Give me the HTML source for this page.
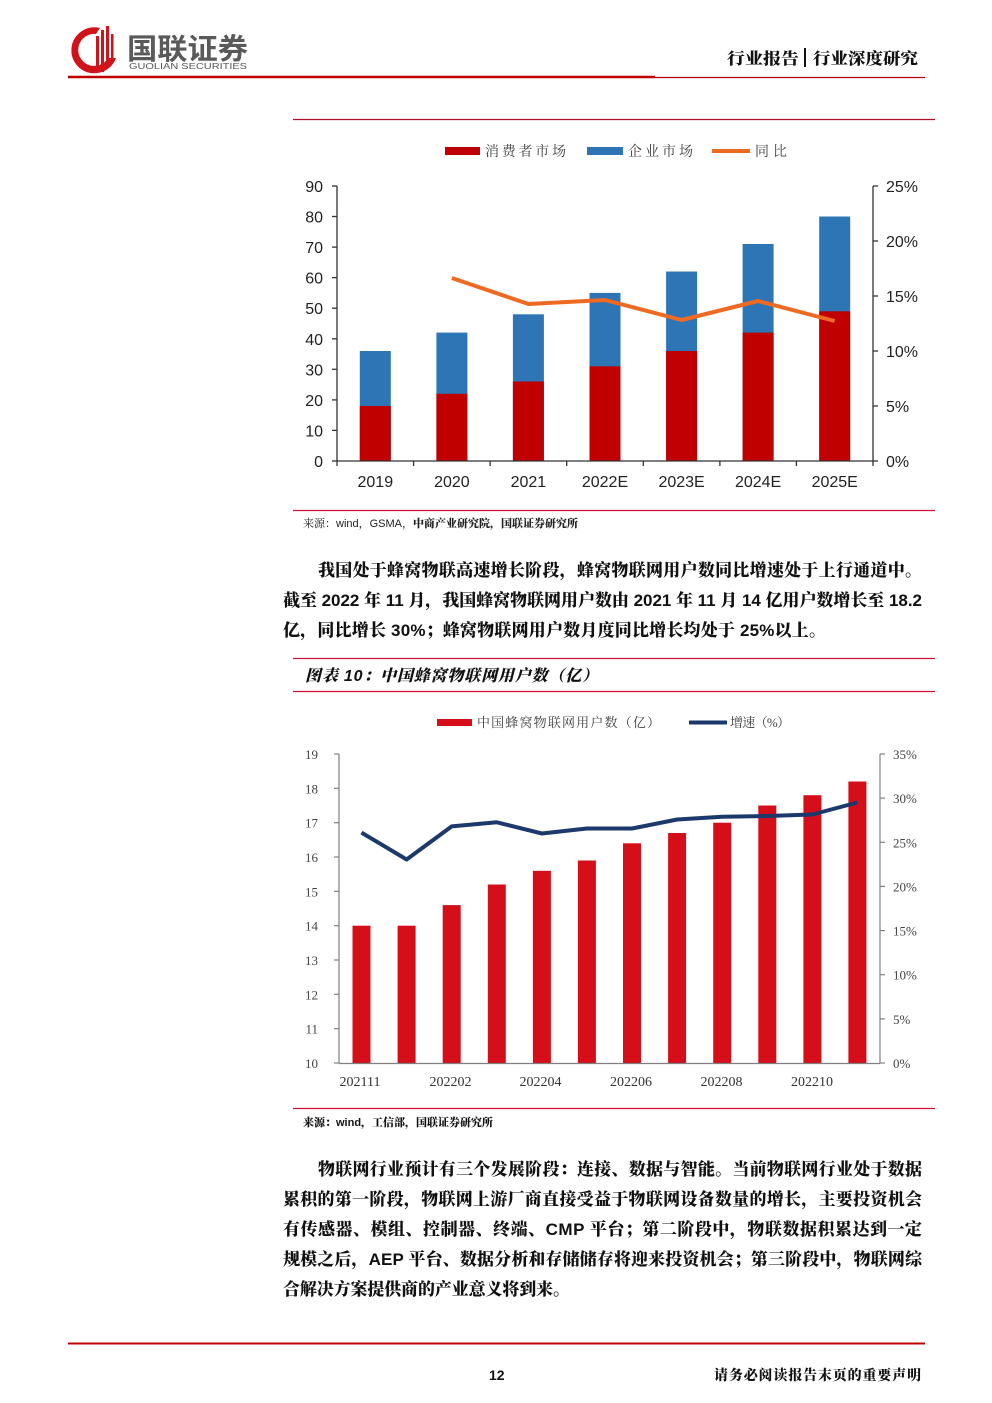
<!DOCTYPE html>
<html><head><meta charset="utf-8"><style>
html,body{margin:0;padding:0;background:#fff;}
svg{display:block;}
</style></head><body>
<svg width="992" height="1403" viewBox="0 0 992 1403" xmlns="http://www.w3.org/2000/svg">
<rect width="992" height="1403" fill="#fff"/>
<!-- Header logo -->
<g>
 <path d="M100 28 A23 23 0 1 0 116 58 L108 58 A16 16 0 1 1 96 34 Z" fill="#D0121B"/>
 <rect x="96" y="36" width="3" height="36" fill="#D0121B"/>
 <rect x="101" y="30" width="3" height="42" fill="#D0121B"/>
 <rect x="106" y="26" width="3" height="40" fill="#D0121B"/>
 <rect x="111" y="34" width="2.5" height="26" fill="#D0121B"/>
 <text x="127" y="59" font-family="'Liberation Sans','Noto Sans CJK SC',sans-serif" font-size="29" font-weight="700" fill="#5a5a5a" textLength="121" lengthAdjust="spacingAndGlyphs">国联证券</text>
 <text x="129" y="69" font-family="'Liberation Sans',sans-serif" font-size="8.5" fill="#555" textLength="118" lengthAdjust="spacingAndGlyphs">GUOLIAN SECURITIES</text>
</g>
<text x="727" y="64" font-family="'Liberation Sans','Noto Serif CJK SC',serif" font-size="16" font-weight="900" fill="#111" textLength="72" lengthAdjust="spacingAndGlyphs">行业报告</text>
<rect x="804" y="48" width="2" height="19" fill="#111"/>
<text x="813" y="64" font-family="'Liberation Sans','Noto Serif CJK SC',serif" font-size="16" font-weight="900" fill="#111" textLength="105" lengthAdjust="spacingAndGlyphs">行业深度研究</text>
<line x1="68" y1="77" x2="655" y2="77" stroke="#C00000" stroke-width="2.5"/>
<line x1="655" y1="77.5" x2="925" y2="77.5" stroke="#C00000" stroke-width="1.2"/>

<!-- Chart 1 -->
<line x1="293" y1="119.5" x2="935" y2="119.5" stroke="#B0102A" stroke-width="1.2"/>
<g font-family="'Liberation Serif','Noto Serif CJK SC',serif" font-size="14" fill="#404040">
 <rect x="445" y="147" width="35" height="8" fill="#C00000"/>
 <text x="485" y="156" textLength="81" lengthAdjust="spacing">消费者市场</text>
 <rect x="587" y="147" width="36" height="8" fill="#2E75B6"/>
 <text x="628" y="156" textLength="65" lengthAdjust="spacing">企业市场</text>
 <line x1="712" y1="151" x2="750" y2="151" stroke="#EE6A22" stroke-width="4"/>
 <text x="755" y="156" textLength="32" lengthAdjust="spacing">同比</text>
</g>
<g>
 <!-- bars -->
 <g fill="#2E75B6">
  <rect x="359.8" y="351" width="31" height="110"/>
  <rect x="436.4" y="332.6" width="31" height="128.4"/>
  <rect x="512.9" y="314.3" width="31" height="146.7"/>
  <rect x="589.5" y="292.9" width="31" height="168.1"/>
  <rect x="666.1" y="271.5" width="31" height="189.5"/>
  <rect x="742.6" y="244" width="31" height="217"/>
  <rect x="819.2" y="216.5" width="31" height="244.5"/>
 </g>
 <g fill="#C00000">
  <rect x="359.8" y="406" width="31" height="55"/>
  <rect x="436.4" y="393.8" width="31" height="67.2"/>
  <rect x="512.9" y="381.5" width="31" height="79.5"/>
  <rect x="589.5" y="366.3" width="31" height="94.7"/>
  <rect x="666.1" y="351" width="31" height="110"/>
  <rect x="742.6" y="332.6" width="31" height="128.4"/>
  <rect x="819.2" y="311.3" width="31" height="149.7"/>
 </g>
 <polyline points="451.9,278 528.4,304 605,300 681.6,320 758.1,301 834.7,321" fill="none" stroke="#EE6A22" stroke-width="4" stroke-linejoin="round"/>
 <!-- axes -->
 <g stroke="#333" stroke-width="1.3">
  <line x1="337" y1="186" x2="337" y2="461"/>
  <line x1="873" y1="186" x2="873" y2="461"/>
  <line x1="337" y1="461" x2="873" y2="461"/>
  <line x1="332" y1="461" x2="337" y2="461"/><line x1="332" y1="430.4" x2="337" y2="430.4"/><line x1="332" y1="399.9" x2="337" y2="399.9"/><line x1="332" y1="369.3" x2="337" y2="369.3"/><line x1="332" y1="338.8" x2="337" y2="338.8"/><line x1="332" y1="308.2" x2="337" y2="308.2"/><line x1="332" y1="277.6" x2="337" y2="277.6"/><line x1="332" y1="247.1" x2="337" y2="247.1"/><line x1="332" y1="216.5" x2="337" y2="216.5"/><line x1="332" y1="186" x2="337" y2="186"/>
  <line x1="873" y1="461" x2="878" y2="461"/><line x1="873" y1="406" x2="878" y2="406"/><line x1="873" y1="351" x2="878" y2="351"/><line x1="873" y1="296" x2="878" y2="296"/><line x1="873" y1="241" x2="878" y2="241"/><line x1="873" y1="186" x2="878" y2="186"/>
  <line x1="337" y1="461" x2="337" y2="466"/><line x1="413.6" y1="461" x2="413.6" y2="466"/><line x1="490.1" y1="461" x2="490.1" y2="466"/><line x1="566.7" y1="461" x2="566.7" y2="466"/><line x1="643.3" y1="461" x2="643.3" y2="466"/><line x1="719.9" y1="461" x2="719.9" y2="466"/><line x1="796.4" y1="461" x2="796.4" y2="466"/><line x1="873" y1="461" x2="873" y2="466"/>
 </g>
 <g font-family="'Liberation Sans',sans-serif" font-size="16" fill="#222" text-anchor="end">
  <text x="323" y="467">0</text><text x="323" y="436.4">10</text><text x="323" y="405.9">20</text><text x="323" y="375.3">30</text><text x="323" y="344.8">40</text><text x="323" y="314.2">50</text><text x="323" y="283.6">60</text><text x="323" y="253.1">70</text><text x="323" y="222.5">80</text><text x="323" y="192">90</text>
 </g>
 <g font-family="'Liberation Sans',sans-serif" font-size="16" fill="#222">
  <text x="886" y="467">0%</text><text x="886" y="412">5%</text><text x="886" y="357">10%</text><text x="886" y="302">15%</text><text x="886" y="247">20%</text><text x="886" y="192">25%</text>
 </g>
 <g font-family="'Liberation Sans',sans-serif" font-size="16" fill="#222" text-anchor="middle">
  <text x="375.3" y="487">2019</text><text x="451.9" y="487">2020</text><text x="528.4" y="487">2021</text><text x="605" y="487">2022E</text><text x="681.6" y="487">2023E</text><text x="758.1" y="487">2024E</text><text x="834.7" y="487">2025E</text>
 </g>
</g>
<line x1="293" y1="510.5" x2="935" y2="510.5" stroke="#D0103A" stroke-width="1.2"/>
<text x="303" y="527" font-family="'Liberation Sans','Noto Serif CJK SC',serif" font-size="11" fill="#222">来源：wind，GSMA，<tspan font-weight="900">中商产业研究院，国联证券研究所</tspan></text>

<!-- Paragraph 1 -->
<g font-family="'Liberation Sans','Noto Serif CJK SC',serif" font-size="17" font-weight="900" fill="#111">
 <text x="318" y="576" textLength="604" lengthAdjust="spacing">我国处于蜂窝物联高速增长阶段，蜂窝物联网用户数同比增速处于上行通道中。</text>
 <text x="283" y="606" textLength="639" lengthAdjust="spacing">截至 2022 年 11 月，我国蜂窝物联网用户数由 2021 年 11 月 14 亿用户数增长至 18.2</text>
 <text x="283" y="636" textLength="543" lengthAdjust="spacing">亿，同比增长 30%；蜂窝物联网用户数月度同比增长均处于 25%以上。</text>
</g>

<!-- Title 2 -->
<line x1="293" y1="658.5" x2="935" y2="658.5" stroke="#D0103A" stroke-width="1.2"/>
<text x="305" y="681" font-family="'Liberation Sans','Noto Serif CJK SC',serif" font-size="16" font-weight="900" font-style="italic" fill="#111" textLength="293" lengthAdjust="spacing">图表 10：中国蜂窝物联网用户数（亿）</text>
<line x1="293" y1="691.5" x2="935" y2="691.5" stroke="#D0103A" stroke-width="1.2"/>

<!-- Chart 2 -->
<g font-family="'Liberation Serif','Noto Serif CJK SC',serif" font-size="13" fill="#404040">
 <rect x="437" y="719" width="35" height="7" fill="#D50F1A"/>
 <text x="477" y="727" textLength="183" lengthAdjust="spacing">中国蜂窝物联网用户数（亿）</text>
 <line x1="689" y1="722.5" x2="727" y2="722.5" stroke="#1B3A6B" stroke-width="4"/>
 <text x="730" y="727" textLength="60" lengthAdjust="spacing">增速（%）</text>
</g>
<g>
 <g fill="#D50F1A">
  <rect x="352.5" y="925.7" width="18" height="137.3"/>
  <rect x="397.6" y="925.7" width="18" height="137.3"/>
  <rect x="442.7" y="905.1" width="18" height="157.9"/>
  <rect x="487.8" y="884.5" width="18" height="178.5"/>
  <rect x="532.9" y="870.8" width="18" height="192.2"/>
  <rect x="577.9" y="860.5" width="18" height="202.5"/>
  <rect x="623" y="843.3" width="18" height="219.7"/>
  <rect x="668.1" y="833" width="18" height="230"/>
  <rect x="713.2" y="822.7" width="18" height="240.3"/>
  <rect x="758.3" y="805.5" width="18" height="257.5"/>
  <rect x="803.4" y="795.2" width="18" height="267.8"/>
  <rect x="848.4" y="781.5" width="18" height="281.5"/>
 </g>
 <polyline points="361.5,832.6 406.6,859.5 451.7,826.4 496.8,822.3 541.9,833.5 586.9,828.5 632,828.5 677.1,819.5 722.2,816.7 767.3,816 812.4,814.5 857.4,802.5" fill="none" stroke="#1B3A6B" stroke-width="4" stroke-linejoin="round"/>
 <g stroke="#808080" stroke-width="1.2">
  <line x1="339" y1="754" x2="339" y2="1063.5"/>
  <line x1="880" y1="754" x2="880" y2="1063.5"/>
  <line x1="339" y1="1063.5" x2="880" y2="1063.5"/>
  <line x1="334" y1="1063" x2="339" y2="1063"/><line x1="334" y1="1028.7" x2="339" y2="1028.7"/><line x1="334" y1="994.3" x2="339" y2="994.3"/><line x1="334" y1="960" x2="339" y2="960"/><line x1="334" y1="925.7" x2="339" y2="925.7"/><line x1="334" y1="891.3" x2="339" y2="891.3"/><line x1="334" y1="857" x2="339" y2="857"/><line x1="334" y1="822.7" x2="339" y2="822.7"/><line x1="334" y1="788.3" x2="339" y2="788.3"/><line x1="334" y1="754" x2="339" y2="754"/>
  <line x1="880" y1="1063" x2="885" y2="1063"/><line x1="880" y1="1018.9" x2="885" y2="1018.9"/><line x1="880" y1="974.7" x2="885" y2="974.7"/><line x1="880" y1="930.6" x2="885" y2="930.6"/><line x1="880" y1="886.4" x2="885" y2="886.4"/><line x1="880" y1="842.3" x2="885" y2="842.3"/><line x1="880" y1="798.1" x2="885" y2="798.1"/><line x1="880" y1="754" x2="885" y2="754"/>
 </g>
 <g font-family="'Liberation Serif',serif" font-size="13" fill="#444" text-anchor="end">
  <text x="318" y="1068">10</text><text x="318" y="1033.7">11</text><text x="318" y="999.3">12</text><text x="318" y="965">13</text><text x="318" y="930.7">14</text><text x="318" y="896.3">15</text><text x="318" y="862">16</text><text x="318" y="827.7">17</text><text x="318" y="793.3">18</text><text x="318" y="759">19</text>
 </g>
 <g font-family="'Liberation Serif',serif" font-size="13" fill="#444">
  <text x="893" y="1068">0%</text><text x="893" y="1023.9">5%</text><text x="893" y="979.7">10%</text><text x="893" y="935.6">15%</text><text x="893" y="891.4">20%</text><text x="893" y="847.3">25%</text><text x="893" y="803.1">30%</text><text x="893" y="759">35%</text>
 </g>
 <g font-family="'Liberation Serif',serif" font-size="14" fill="#333" text-anchor="middle">
  <text x="360" y="1086">202111</text><text x="450.5" y="1086">202202</text><text x="540.5" y="1086">202204</text><text x="631" y="1086">202206</text><text x="721.5" y="1086">202208</text><text x="812" y="1086">202210</text>
 </g>
</g>
<line x1="293" y1="1108.5" x2="935" y2="1108.5" stroke="#D0103A" stroke-width="1.2"/>
<text x="303" y="1126" font-family="'Liberation Sans','Noto Serif CJK SC',serif" font-size="11" font-weight="900" fill="#111">来源：wind，工信部，国联证券研究所</text>

<!-- Paragraph 2 -->
<g font-family="'Liberation Sans','Noto Serif CJK SC',serif" font-size="17" font-weight="900" fill="#111">
 <text x="318" y="1175" textLength="604" lengthAdjust="spacing">物联网行业预计有三个发展阶段：连接、数据与智能。当前物联网行业处于数据</text>
 <text x="283" y="1205" textLength="639" lengthAdjust="spacing">累积的第一阶段，物联网上游厂商直接受益于物联网设备数量的增长，主要投资机会</text>
 <text x="283" y="1235" textLength="639" lengthAdjust="spacing">有传感器、模组、控制器、终端、CMP 平台；第二阶段中，物联数据积累达到一定</text>
 <text x="283" y="1265" textLength="639" lengthAdjust="spacing">规模之后，AEP 平台、数据分析和存储储存将迎来投资机会；第三阶段中，物联网综</text>
 <text x="283" y="1295" textLength="287" lengthAdjust="spacing">合解决方案提供商的产业意义将到来。</text>
</g>

<!-- Footer -->
<line x1="68" y1="1343.5" x2="925" y2="1343.5" stroke="#C00000" stroke-width="2"/>
<text x="489" y="1380" font-family="'Liberation Sans',sans-serif" font-size="14" font-weight="700" fill="#111">12</text>
<text x="714" y="1380" font-family="'Liberation Sans','Noto Serif CJK SC',serif" font-size="14" font-weight="900" fill="#111" textLength="207" lengthAdjust="spacing">请务必阅读报告末页的重要声明</text>
</svg>
</body></html>
